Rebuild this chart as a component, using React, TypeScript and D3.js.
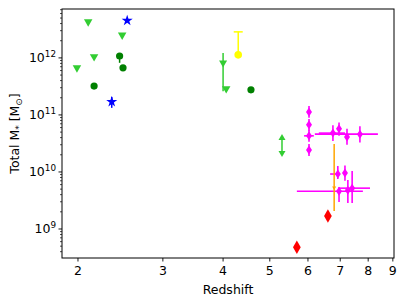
import React from 'react';
import * as d3 from 'd3';

// upper limits (light green, down triangles)
const limZ = [2.10, 2.16, 1.99, 2.47, 4.06];
const limM = [4.1e12, 1.0e12, 6.4e11, 2.4e12, 2.75e11];
// light green point with vertical error bar
const lgZ = [4.0];
const lgM = [7.8e11];
const lgLo = [2.6e11];
const lgHi = [1.22e12];
// dark green circles
const dgZ = [2.16, 2.44, 2.48, 4.57];
const dgM = [3.2e11, 1.08e12, 6.7e11, 2.75e11];
const dgLo = [3.2e11, 8.2e11, 6.7e11, 2.75e11];
// blue stars
const starZ = [2.53, 2.35];
const starM = [4.5e12, 1.7e11];
const starLo = [4.5e12, 1.33e11];
const starHi = [4.5e12, 2.07e11];
// yellow
const yelZ = [4.30];
const yelM = [1.13e12];
const yelHi = [2.86e12];
// green double arrow
const dblZ = [5.30];
const dblLo = [2.07e10];
const dblHi = [4.1e10];
// magenta
const magZ = [6.03, 6.03, 6.03, 6.03, 6.76, 6.96, 7.23, 7.69, 6.92, 7.16, 6.96, 7.26, 7.41];
const magM = [1.13e11, 6.7e10, 4.3e10, 2.43e10, 4.8e10, 5.7e10, 4.1e10, 4.6e10, 9.2e9, 9.6e9, 4.6e9, 4.8e9, 5.2e9];
const magZLo = [6.03, 6.03, 5.89, 6.03, 6.32, 6.96, 7.23, 6.20, 6.67, 7.16, 5.69, 7.26, 6.99];
const magZHi = [6.03, 6.03, 6.17, 6.03, 7.16, 6.96, 7.23, 8.38, 6.98, 7.16, 7.80, 7.26, 8.07];
const magMLo = [8.9e10, 5.3e10, 3.4e10, 1.9e10, 3.5e10, 4.3e10, 3.0e10, 3.3e10, 7.5e9, 7.0e9, 2.98e9, 2.86e9, 2.86e9];
const magMHi = [1.44e11, 8.5e10, 5.5e10, 3.1e10, 6.6e10, 7.4e10, 5.7e10, 6.3e10, 1.27e10, 1.3e10, 5.45e9, 7.2e9, 1.04e10];
// orange
const orZ = [6.80];
const orM = [5.2e9];
const orLo = [2.07e9];
const orHi = [3.1e10];
// red diamonds
const redZ = [6.60, 5.69];
const redM = [1.69e9, 4.8e8];

const xTicks = [2, 3, 4, 5, 6, 7, 8, 9];
const yDecades = [9, 10, 11, 12];

const W = 407, H = 305;
const L = 62, R = 394, T = 9, B = 258;
const FONT = 'DejaVu Sans, sans-serif';

const tri = (cx: number, cy: number, s: number, down: boolean) => {
  const h = s * 0.87;
  return down
    ? `M${cx - s / 2},${cy - h / 2}L${cx + s / 2},${cy - h / 2}L${cx},${cy + h / 2}Z`
    : `M${cx - s / 2},${cy + h / 2}L${cx + s / 2},${cy + h / 2}L${cx},${cy - h / 2}Z`;
};

export default function App() {
  const x = d3.scaleLog().domain([1.853, 9.05]).range([L, R]);
  const y = d3.scaleLog().domain([3.1e8, 7.2e12]).range([B, T]);

  const yMinor: number[] = [];
  for (let d = 8; d <= 12; d++) {
    for (let k = 1; k <= 9; k++) {
      const v = k * Math.pow(10, d);
      if (v >= 3.1e8 && v <= 7.2e12) yMinor.push(v);
    }
  }

  const star = d3.symbol().type(d3.symbolStar).size(38)();
  const diamondR = d3.symbol().type(d3.symbolDiamond).size(52)();

  return (
    <svg width={W} height={H} style={{ position: 'absolute', left: 0, top: 0, background: '#fff' }} fontFamily={FONT}>
      {/* light green error bar point */}
      {lgZ.map((z, i) => (
        <g key={'lg' + i} fill="#32cd32" stroke="#32cd32">
          <line x1={x(z)} x2={x(z)} y1={y(lgHi[i])} y2={y(lgLo[i])} strokeWidth={1.5} />
          <path d={tri(x(z), y(lgM[i]), 8, true)} stroke="none" />
        </g>
      ))}
      {limZ.map((z, i) => (
        <path key={'lim' + i} d={tri(x(z), y(limM[i]), 8.5, true)} fill="#32cd32" />
      ))}
      {dblZ.map((z, i) => (
        <g key={'dbl' + i} fill="#32cd32" stroke="#32cd32">
          <line x1={x(z)} x2={x(z)} y1={y(dblHi[i])} y2={y(dblLo[i])} strokeWidth={1.5} />
          <path d={tri(x(z), y(dblHi[i]), 7, false)} stroke="none" />
          <path d={tri(x(z), y(dblLo[i]), 7, true)} stroke="none" />
        </g>
      ))}
      {dgZ.map((z, i) => (
        <g key={'dg' + i}>
          <line x1={x(z)} x2={x(z)} y1={y(dgM[i])} y2={y(dgLo[i])} stroke="#008000" strokeWidth={1.5} />
          <circle cx={x(z)} cy={y(dgM[i])} r={3.6} fill="#008000" />
        </g>
      ))}
      {starZ.map((z, i) => (
        <g key={'st' + i}>
          <line x1={x(z)} x2={x(z)} y1={y(starHi[i])} y2={y(starLo[i])} stroke="#0000ff" strokeWidth={1.5} />
          <path d={star} transform={`translate(${x(z)},${y(starM[i])})`} fill="#0000ff" />
        </g>
      ))}
      {yelZ.map((z, i) => (
        <g key={'ye' + i}>
          <line x1={x(z)} x2={x(z)} y1={y(yelHi[i])} y2={y(yelM[i])} stroke="#ffff00" strokeWidth={1.5} />
          <line x1={x(z) - 4.5} x2={x(z) + 4.5} y1={y(yelHi[i])} y2={y(yelHi[i])} stroke="#ffff00" strokeWidth={1.5} />
          <circle cx={x(z)} cy={y(yelM[i])} r={3.8} fill="#ffff00" />
        </g>
      ))}
      {magZ.map((z, i) => (
        <g key={'mg' + i} stroke="#ff00ff" strokeWidth={1.6}>
          {magZLo[i] !== magZHi[i] && (
            <line x1={x(magZLo[i])} x2={x(magZHi[i])} y1={y(magM[i])} y2={y(magM[i])} />
          )}
          <line x1={x(z)} x2={x(z)} y1={y(magMHi[i])} y2={y(magMLo[i])} />
          <path
            d={`M${x(z)},${y(magM[i]) - 4.5}L${x(z) + 3},${y(magM[i])}L${x(z)},${y(magM[i]) + 4.5}L${x(z) - 3},${y(magM[i])}Z`}
            fill="#ff00ff"
            stroke="none"
          />
        </g>
      ))}
      {orZ.map((z, i) => (
        <g key={'or' + i} fill="#ffa500" stroke="#ffa500">
          <line x1={x(z)} x2={x(z)} y1={y(orHi[i])} y2={y(orLo[i])} strokeWidth={1.5} />
          <path d={tri(x(z), y(orM[i]), 4, true)} stroke="none" />
        </g>
      ))}
      {redZ.map((z, i) => (
        <path key={'rd' + i} d={diamondR} transform={`translate(${x(z)},${y(redM[i])})`} fill="#ff0000" />
      ))}

      {/* frame */}
      <rect x={L} y={T} width={R - L} height={B - T} fill="none" stroke="#000" strokeWidth={1} />

      {/* y ticks */}
      {yMinor.map((v, i) => {
        const major = yDecades.some(d => Math.abs(Math.log10(v) - d) < 1e-9);
        return (
          <line key={'yt' + i} x1={L} x2={L - (major ? 3.5 : 2)} y1={y(v)} y2={y(v)} stroke="#000" strokeWidth={major ? 0.9 : 0.7} />
        );
      })}
      {yDecades.map(d => (
        <text key={'yl' + d} x={L - 6} y={y(Math.pow(10, d)) + 4.5} textAnchor="end" fontSize={12.5} fill="#000">
          10<tspan fontSize={8.8} dy={-5}>{d}</tspan>
        </text>
      ))}

      {/* x ticks */}
      {xTicks.map(t => (
        <g key={'xt' + t}>
          <line x1={x(t)} x2={x(t)} y1={B} y2={B + 3.5} stroke="#000" strokeWidth={0.9} />
          <text x={x(t)} y={B + 17} textAnchor="middle" fontSize={12.5} fill="#000">{t}</text>
        </g>
      ))}

      <text x={(L + R) / 2} y={294} textAnchor="middle" fontSize={12.5} fill="#000">Redshift</text>
      <text transform={`translate(19,${(T + B) / 2}) rotate(-90)`} textAnchor="middle" fontSize={12.5} fill="#000">
        Total M<tspan fontSize={8.8} dy={2.5}>*</tspan><tspan dy={-2.5}> [M</tspan><tspan fontSize={8.8} dy={2.5}>⊙</tspan><tspan dy={-2.5}>]</tspan>
      </text>
    </svg>
  );
}
